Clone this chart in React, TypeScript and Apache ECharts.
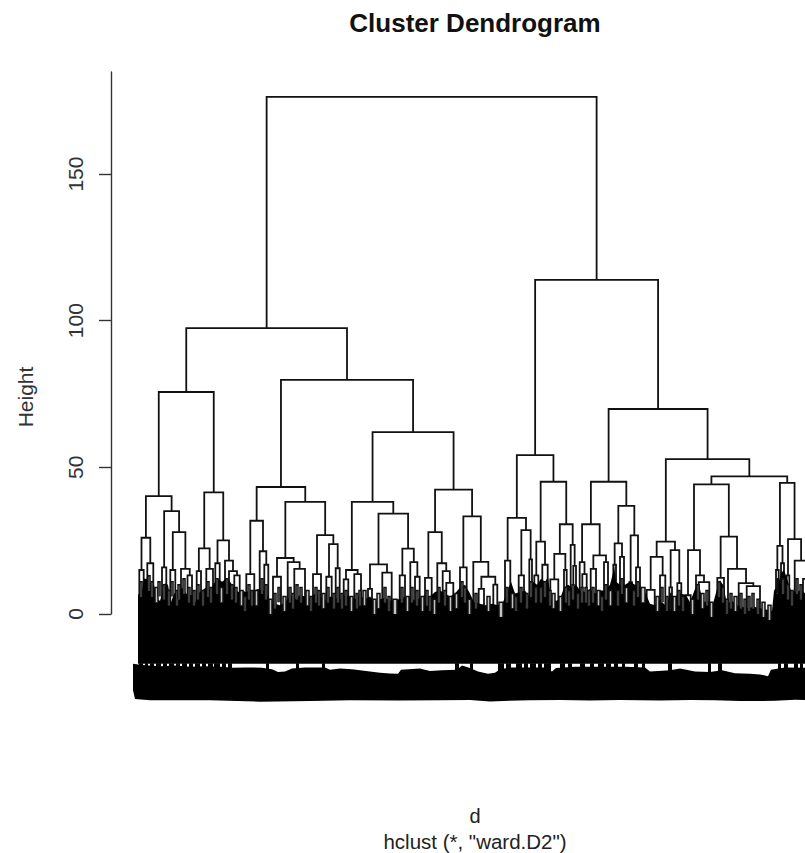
import React, { useEffect, useRef } from "react";
import * as echarts from "echarts";

// Heights and leaf positions of the upper dendrogram. Each node: [height, left, right]
const clusterA = [40.2,
  [26.0, [15.0, 139.3, 143.7], [17.3, 147.3, 153.3]],
  [35.1, [15.9, 162, 166.3], [27.9, [15.0, 170.3, 175.3], [15.4, 181, [13.2, 187.5, 192]]]]];
const clusterB = [41.5,
  [22.4, [14.6, 196.7, 201], [15.4, 206.3, 213]],
  [25.1, [17.3, 215.3, 219.7], [18.2, 225, [14.6, 229, [13.2, 234.3, 239.7]]]]];
const clusterC = [43.3,
  [31.8, [13.6, 246.3, 254.3], [21.4, 259.7, [16.8, 264.3, 268.3]]],
  [38.2,
    [19.1, [12.7, 273, 281], [17.7, 287.7, [15.4, 294.3, 305]]],
    [26.9, [13.6, 313, 321], [23.8, [12.7, 326.3, 331.7], [15.6, 335.7, 339.7]]]]];
const clusterD = [38.2,
  [15.0, [11.8, 343.7, 348.3], [13.6, 354.3, 361]],
  [34.2,
    [16.9, [8.6, 368, 372], [14.1, 382.3, 391.7]],
    [22.3, [13.2, 399.7, 405], [17.7, 410.3, [12.7, 415, 419.7]]]]];
const clusterE = [42.4,
  [27.9, [12.3, 425, 431.7], [17.3, 437.3, [14.6, 442.7, [10.6, 446.3, 453.3]]]],
  [33.3, [15.9, 460, 466.7], [17.8, 473.3, [12.7, [8.6, 478.7, 484], [10.0, 493.3, 497.3]]]]];
const clusterF = [32.8,
  [18.2, 505, 510.3],
  [28.6, [13.2, 518.7, 524], [18.6, 529.3, 532]]];
const clusterG = [45.1,
  [24.7, [13.2, 534.3, 538.3], [16.8, 542.3, 547.7]],
  [30.6, [20.5, [11.8, 550.3, 558.3], [15.0, 564, 566.7]], [23.6, 570.7, [16.4, 573.3, 576]]]];
const clusterH = [45.1,
  [30.6, [17.7, 579.7, [13.6, 582.3, 586.7]], [20.0, [15.4, 590.7, 596], [17.7, 604, 608]]],
  [36.9, [24.1, [16.8, 613.3, 616], [19.5, 620, 624]], [26.8, [10.9, 629.3, 632], [15.9, 636, 640]]]];
const clusterI = [24.7,
  [19.5, [8.2, 646.7, 654.7], [13.2, 660, 665.3]],
  [21.8, [9.1, 669.3, 672], [10.5, 677.3, 681.3]]];
const clusterJ = [44.2,
  [21.8, [6.4, 685.3, 690.7], [13.2, 696, [10.9, 698.7, 709.3]]],
  [26.4, [12.3, 717.3, 724], [15.4, 728, [10.5, 738.7, [9.5, 746.7, 760]]]]];
const clusterK = [44.7,
  [23.2, [15.0, 776, 778.7], [17.3, 781, 784]],
  [25.5, [13.2, 786.7, 789.3], [18.2, 794.7, [12.0, 803, 812]]]];

// Upper joins built from the clusters above
const leftBranch = [97.5,
  [75.7, clusterA, clusterB],
  [79.8, clusterC, [62.0, clusterD, clusterE]]];
const rightBranch = [113.9,
  [54.2, clusterF, clusterG],
  [69.9, clusterH, [52.8, clusterI, [46.9, clusterJ, clusterK]]]];
const dendrogramRoot = [176.3, leftBranch, rightBranch];

// Small joins near the leaves: [left, right, height]
const fineTwigs = [
  [140, 142, 11], [148, 150, 13], [151, 153, 11], [155, 158, 9], [158, 160, 11], [163, 165, 10],
  [168, 170, 8], [171, 173, 11], [176, 178, 8], [178, 180, 10], [183, 185, 12], [188, 190, 9],
  [193, 195, 8], [197, 199, 10], [202, 204, 8], [207, 209, 11], [210, 212, 9], [216, 218, 12],
  [220, 223, 9], [226, 228, 12], [231, 233, 10], [235, 237, 9], [240, 243, 8], [244, 246, 6],
  [248, 250, 10], [251, 253, 8], [255, 258, 8], [261, 263, 12], [265, 267, 10], [269, 272, 5],
  [274, 276, 7], [278, 280, 9], [283, 286, 6], [289, 291, 9], [292, 294, 7], [296, 298, 10],
  [300, 302, 9], [306, 309, 8], [310, 312, 6], [315, 317, 9], [318, 320, 8], [322, 325, 7],
  [327, 329, 9], [333, 335, 7], [337, 339, 9], [341, 343, 7], [345, 347, 8], [350, 353, 6],
  [356, 358, 7], [359, 361, 8], [363, 366, 8], [373, 376, 5], [377, 380, 7], [384, 386, 9],
  [388, 390, 6], [393, 397, 5], [401, 403, 9], [406, 409, 6], [411, 413, 9], [416, 418, 8],
  [421, 424, 6], [426, 428, 8], [429, 431, 6], [433, 436, 5], [438, 440, 9], [444, 446, 8],
  [449, 452, 6], [455, 458, 7], [461, 463, 11], [464, 466, 9], [468, 471, 5], [475, 477, 7],
  [487, 490, 6], [499, 503, 4], [506, 508, 9], [511, 514, 7], [515, 517, 6], [520, 522, 9],
  [526, 528, 7], [530, 532, 11], [535, 537, 9], [540, 542, 9], [544, 546, 11], [549, 551, 8],
  [552, 555, 7], [559, 562, 6], [565, 567, 9], [568, 570, 8], [572, 574, 10], [577, 579, 7],
  [581, 583, 9], [585, 587, 9], [588, 590, 8], [592, 594, 9], [597, 600, 8], [601, 603, 6],
  [605, 607, 10], [609, 612, 8], [617, 619, 8], [621, 623, 12], [625, 628, 9], [633, 635, 8],
  [637, 639, 11], [641, 645, 9], [656, 659, 6], [661, 663, 9], [666, 668, 6], [670, 671, 7],
  [673, 676, 6], [678, 680, 8], [682, 684, 6], [691, 694, 5], [697, 699, 10], [701, 704, 7],
  [706, 708, 8], [710, 713, 4], [718, 720, 11], [722, 724, 9], [726, 728, 5], [730, 732, 7],
  [734, 737, 6], [740, 742, 7], [744, 746, 5], [748, 750, 6], [752, 754, 7], [757, 759, 5],
  [762, 765, 4], [768, 771, 3], [777, 778, 12], [782, 784, 12], [787, 789, 10], [791, 793, 8],
  [796, 798, 12], [800, 802, 10],
];

// Upper edge of the dense stems: [position, height]
const massTop = [
  [138, 6.5], [142, 8], [144, 12], [147, 12], [150, 10], [154, 10], [157, 5], [160, 4.5], [163, 8], [165, 10.5],
  [168, 10], [171, 4], [174, 7], [178, 7.5], [182, 9], [186, 7], [190, 6.5], [193, 6.5], [195, 3.5], [198, 7],
  [202, 8], [206, 9], [210, 8], [214, 10.5], [218, 12], [222, 11], [226, 12], [230, 11], [234, 9], [238, 7.5], [242, 8],
  [246, 7.5], [250, 8], [254, 8], [258, 8.5], [262, 8], [266, 8], [270, 3.5], [275, 3.5], [280, 3], [285, 4],
  [290, 6], [295, 5], [300, 6.5], [305, 6], [310, 5.5], [315, 7], [320, 6], [325, 4.5], [330, 6], [335, 5.5],
  [340, 5], [345, 6.5], [350, 6], [355, 5], [360, 6.5], [365, 5], [370, 6], [375, 4], [380, 5], [385, 5.5],
  [390, 4.5], [395, 5], [400, 5], [405, 6], [410, 6], [415, 4.5], [420, 5.5], [425, 6.5], [430, 6], [435, 7.5],
  [440, 8], [445, 7], [450, 6], [455, 7], [460, 9], [465, 10], [470, 7], [474, 4], [480, 3.5], [486, 3],
  [492, 3.5], [498, 3], [503, 4], [507, 7.5], [511, 11], [515, 7], [520, 7.5], [525, 8], [529, 6], [533, 11],
  [537, 10], [541, 12], [545, 11], [548, 12.5], [551, 5], [556, 4.5], [560, 5], [564, 9], [568, 10], [572, 9],
  [576, 10], [580, 8], [585, 7.5], [590, 8.5], [595, 7], [600, 8], [605, 8], [610, 10], [613, 14], [614, 17],
  [616, 11], [620, 10], [625, 10], [630, 11], [635, 10], [640, 9.5], [645, 7.5], [650, 3.5], [655, 3], [660, 5],
  [665, 3], [670, 6.5], [675, 6], [680, 7], [686, 6.5], [690, 4], [695, 8.5], [699, 10], [703, 4], [708, 4.5],
  [713, 3.5], [717, 8.5], [720, 11.5], [723, 10], [727, 3.5], [732, 4.5], [737, 3], [742, 2.5], [748, 2], [754, 2.5],
  [760, 2], [766, 1.5], [772, 1], [774, 8], [778, 10], [781, 14], [784, 15], [787, 12], [791, 8], [796, 7.5],
  [800, 8], [806, 7], [812, 6],
];
// Lower edge of the dense stems
const massBottom = [[812, -17], [138, -17]];
// Upper edge of the leaf label band
const bandTop = [
  [133, -17], [142, -17.4], [160, -17.8], [175, -17.6], [190, -18], [205, -17.8], [222, -18],
  [232, -18.3], [245, -18.2], [262, -18.3], [272, -18.8], [278, -19.8], [285, -19.6], [292, -18.6], [305, -18.2],
  [325, -18.2], [330, -19], [340, -18.6], [352, -18.8], [360, -19.2], [370, -19.6], [380, -20], [390, -20.3], [398, -20.4], [401, -19],
  [420, -18.6], [430, -19.4], [442, -19.2], [457, -19], [462, -17.6], [470, -18.4], [478, -19.6], [488, -20.4], [495, -20], [500, -18.8],
  [510, -18.2], [530, -18.2], [545, -18.2], [552, -19.6], [556, -18.4], [575, -18], [600, -18], [625, -18], [645, -18.2], [650, -19.6],
  [670, -19.2], [680, -18.6], [695, -19.6], [710, -19.8], [722, -19.2], [735, -20.2], [750, -20.4], [760, -20.6], [768, -21.2], [771, -19], [785, -18.2],
  [812, -18.4],
];
// Lower edge of the leaf label band
const bandBottom = [
  [812, -29.4], [795, -29.2], [775, -29.6], [740, -29.7], [715, -29.4], [690, -29.3], [660, -29.5], [620, -29.3], [590, -29.5], [560, -29.3],
  [530, -29.4], [490, -29.8], [470, -29.3], [440, -29.4], [400, -29.5], [350, -29.4], [310, -29.7], [260, -29.9], [210, -29.4], [150, -29.4],
  [135, -29], [133, -26],
];
// Black patches that bridge the band gap: [position, width]
const bandBridges = [
  [139, 4], [145, 3], [150, 4], [156, 5], [163, 4], [169, 5], [176, 4], [182, 5], [189, 4], [195, 5], [202, 4],
  [208, 5], [214, 6], [222, 4], [228, 4], [266, 3], [296, 3], [322, 3],
  [455, 4], [470, 3], [498, 6], [506, 5], [516, 6], [524, 4], [530, 6],
  [538, 4], [544, 7], [560, 5], [568, 4], [580, 5], [590, 4], [598, 6], [606, 5], [614, 4], [622, 3], [634, 4], [642, 3],
  [668, 4], [708, 3], [718, 4], [778, 3], [784, 4], [794, 4], [800, 3],
];
const heightTicks = [0, 50, 100, 150];

const LINE = "#111";
const FONT = "'Liberation Sans', Arial, sans-serif";

type Node = any;
const links: number[][] = [];
function walk(n: Node): [number, number] {
  if (typeof n === "number") return [n, 0];
  const [h, l, r] = n;
  const [xl, hl] = walk(l);
  const [xr, hr] = walk(r);
  links.push([xl, xr, h, hl, hr]);
  return [(xl + xr) / 2, h];
}
walk(dendrogramRoot);

export default function App() {
  const ref = useRef<HTMLDivElement>(null);
  useEffect(() => {
    const chart = echarts.init(ref.current!, undefined, { renderer: "svg" });
    chart.setOption({
      animation: false,
      title: {
        text: "Cluster Dendrogram",
        left: 470,
        top: 5,
        textAlign: "center",
        textStyle: { fontFamily: FONT, fontSize: 26, fontWeight: "bold", color: "#111" },
      },
      grid: { left: 111, top: 72, right: 0, height: 542 },
      xAxis: { type: "value", min: 111, max: 805, show: false },
      yAxis: {
        type: "value",
        min: 0,
        max: 184.8,
        interval: 50,
        splitLine: { show: false },
        axisLine: { show: true, lineStyle: { color: "#333", width: 1.4 } },
        axisTick: { show: true, length: 12, customValues: heightTicks, lineStyle: { color: "#333", width: 1.4 } },
        axisLabel: {
          rotate: 90,
          margin: 25,
          customValues: heightTicks,
          fontFamily: FONT,
          fontSize: 21,
          color: "#333",
        },
      },
      graphic: [
        { type: "text", x: 25, y: 397, rotation: Math.PI / 2, style: { text: "Height", fontFamily: FONT, fontSize: 21, fill: "#333", textAlign: "center", textVerticalAlign: "middle" } },
        { type: "text", x: 475, y: 816, style: { text: "d", fontFamily: FONT, fontSize: 20, fill: "#222", textAlign: "center", textVerticalAlign: "middle" } },
        { type: "text", x: 475, y: 841, style: { text: 'hclust (*, "ward.D2")', fontFamily: FONT, fontSize: 20.5, fill: "#222", textAlign: "center", textVerticalAlign: "middle" } },
      ],
      series: [
        {
          type: "custom",
          name: "links",
          silent: true,
          clip: false,
          z: 2,
          data: links,
          encode: { x: [0, 1], y: 2 },
          renderItem: (_: any, api: any) => {
            const xl = api.value(0), xr = api.value(1), h = api.value(2), hl = api.value(3), hr = api.value(4);
            return {
              type: "polyline",
              shape: { points: [api.coord([xl, hl]), api.coord([xl, h]), api.coord([xr, h]), api.coord([xr, hr])] },
              style: { stroke: LINE, lineWidth: 1.8, fill: "none" },
            };
          },
        },
        {
          type: "custom",
          name: "mass",
          silent: true,
          clip: false,
          z: 3,
          data: [[138, 0]],
          encode: { x: 0, y: 1 },
          renderItem: (_: any, api: any) => ({
            type: "group",
            children: [
              { type: "polygon", shape: { points: [...massTop, ...massBottom].map((p) => api.coord(p)) }, style: { fill: "#000" } },
              { type: "polygon", shape: { points: [...bandTop, ...bandBottom].map((p) => api.coord(p)) }, style: { fill: "#000" } },
            ],
          }),
        },
        {
          type: "custom",
          name: "bridges",
          silent: true,
          clip: false,
          z: 3,
          data: bandBridges,
          encode: { x: 0 },
          renderItem: (_: any, api: any) => {
            const x = api.value(0), w = api.value(1);
            return {
              type: "polygon",
              shape: { points: [[x, -16.8], [x + w, -16.8], [x + w, -21], [x, -21]].map((p) => api.coord(p)) },
              style: { fill: "#000" },
            };
          },
        },
        {
          type: "custom",
          name: "twigs",
          silent: true,
          clip: false,
          z: 4,
          data: fineTwigs,
          encode: { x: [0, 1], y: 2 },
          renderItem: (_: any, api: any) => {
            const xl = api.value(0), xr = api.value(1), h = api.value(2);
            return {
              type: "polyline",
              shape: { points: [api.coord([xl, h - 5]), api.coord([xl, h]), api.coord([xr, h]), api.coord([xr, h - 5])] },
              style: { stroke: LINE, lineWidth: 1.5, fill: "#c4c4c4" },
            };
          },
        },
      ],
    });
    return () => chart.dispose();
  }, []);
  return <div ref={ref} style={{ position: "absolute", left: 0, top: 0, width: 805, height: 853, overflow: "hidden", background: "#fff" }} />;
}
